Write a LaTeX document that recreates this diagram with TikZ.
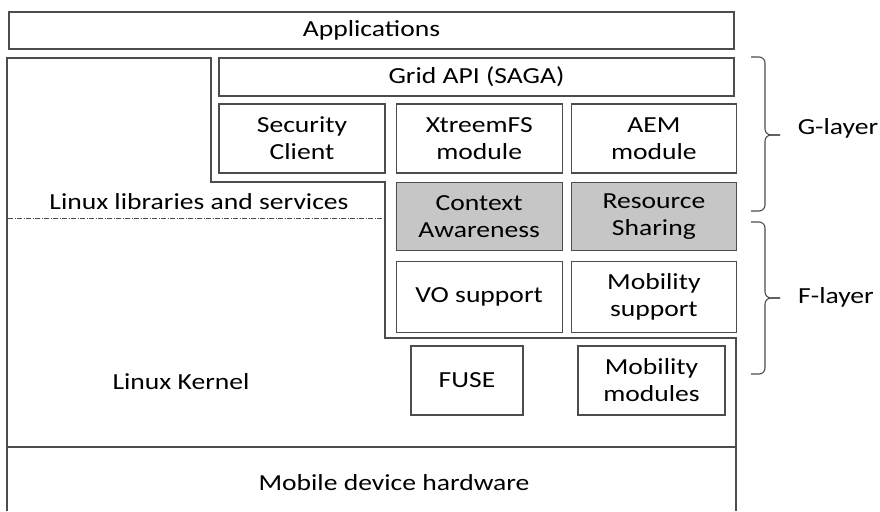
\documentclass[tikz,border=0pt]{standalone}
\usepackage{fontspec}
\setmainfont{Carlito}[FakeStretch=1.2]
\usetikzlibrary{positioning}

\tikzstyle{box}=[rectangle,draw=black!70,line width=1.2pt,text centered,align=center,inner sep=0pt,minimum width=166pt,minimum height=69pt]
\tikzstyle{shaded}=[box,fill=gray!45]
\tikzstyle{layer}=[draw=black!70,line width=1.2pt]
\tikzstyle{brace}=[draw=black!70,line width=1.1pt,rounded corners=6pt]

\begin{document}
\begin{tikzpicture}[x=1pt,y=-1pt,font=\fontsize{23}{27}\selectfont]
\useasboundingbox (0,0) rectangle (880,511);
% layers of the stack
\draw[layer](7,511)--(7,58)--(211,58)--(211,182)--(385,182)--(385,338)--(736,338)--(736,511);
\draw[layer,line width=0.8pt,dash pattern=on 5pt off 1.5pt on 1pt off 1.5pt](8,218)--(385,218);
\draw[layer](7,447)--(736,447);
\node(libs) at (199,202){Linux libraries and services};
\node(kernel) at (181,382){Linux Kernel};
\node(hardware) at (394,483){Mobile device hardware};
% boxes
\node(apps)[box,minimum width=725pt,minimum height=37pt] at (371.5,30.5){Applications};
\node(grid)[box,minimum width=515pt,minimum height=38pt] at (476.5,77){Grid API (SAGA)};
\node(security)[box] at (302,138.5){Security\\Client};
\node(xtreemfs)[box,right=10pt of security]{XtreemFS\\module};
\node(aem)[box,minimum width=165pt,right=8pt of xtreemfs]{AEM\\module};
\node(context)[shaded,minimum height=68pt,below=8pt of xtreemfs]{Context\\Awareness};
\node(resource)[shaded,minimum width=165pt,minimum height=68pt,below=8pt of aem]{Resource\\Sharing};
\node(vo)[box,minimum height=71pt,below=10pt of context]{VO support};
\node(mobsupport)[box,minimum width=165pt,minimum height=71pt,below=10pt of resource]{Mobility\\support};
\node(fuse)[box,minimum width=112pt] at (467,380.5){FUSE};
\node(mobmodules)[box,minimum width=147pt] at (651.5,380.5){Mobility\\modules};
% braces
\coordinate(gtop) at (751,57);
\coordinate(gbottom) at (751,211);
\coordinate(gtip) at (780,135);
\coordinate(ftop) at (751,222);
\coordinate(fbottom) at (751,374);
\coordinate(ftip) at (780,298);
\draw[brace](gtop)-|(765,135)--(gtip);
\draw[brace](gbottom)-|(765,135)--(gtip);
\draw[brace](ftop)-|(765,298)--(ftip);
\draw[brace](fbottom)-|(765,298)--(ftip);
\node(glayer) at (838,128){G-layer};
\node(flayer) at (836,297){F-layer};
\end{tikzpicture}
\end{document}
